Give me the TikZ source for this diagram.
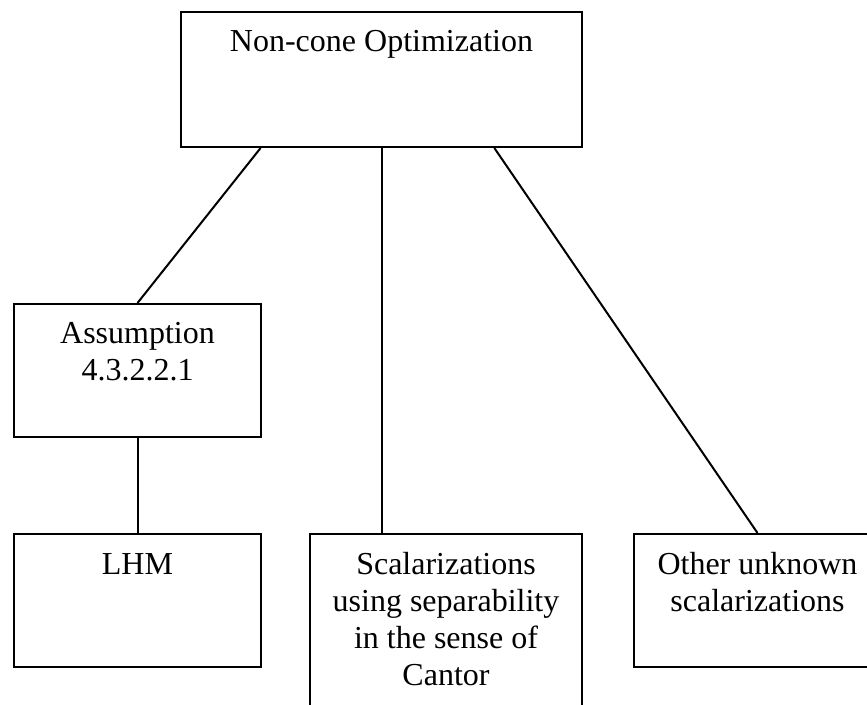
\documentclass[tikz,border=0pt]{standalone}
\usepackage{fontspec}
\setmainfont{Liberation Serif}
\usetikzlibrary{positioning,calc}

\newcommand{\boxlines}[1]{\begin{tabular}[t]{@{}c@{}}#1\end{tabular}}

\begin{document}
\begin{tikzpicture}[
x=0.5pt,y=-0.5pt,
node distance=47.5pt,
box/.style={rectangle,draw=black,line width=1pt,inner sep=0pt,anchor=north,
minimum width=123.5pt,text height=20pt,text depth=46.5pt,
font=\fontsize{16}{18.5}\selectfont},
link/.style={line width=1pt}
]
\useasboundingbox (0,0) rectangle (867,705);
\clip (0,0) rectangle (867,705);

\node[box,minimum width=200.5pt,text depth=47.5pt] (opt) at (381.5,11) {Non-cone Optimization};
\node[box] (asm) at (137.5,303) {\boxlines{Assumption\\4.3.2.2.1}};
\node[box,below=of asm] (lhm) {LHM};
\node[box,minimum width=136pt,text depth=110pt,right=23.5pt of lhm.north east,anchor=north west] (scal)
  {\boxlines{Scalarizations\\using separability\\in the sense of\\Cantor}};
\node[box,right=25pt of scal.north east,anchor=north west] (oth) {\boxlines{Other unknown\\scalarizations}};

\draw[link] ($(opt.south west)!0.2!(opt.south east)$) -- (asm.north);
\draw[link] (opt.south) -- (opt.south |- scal.north);
\draw[link] ($(opt.south west)!0.78!(opt.south east)$) -- (oth.north);
\draw[link] (asm.south) -- (lhm.north);
\end{tikzpicture}
\end{document}
